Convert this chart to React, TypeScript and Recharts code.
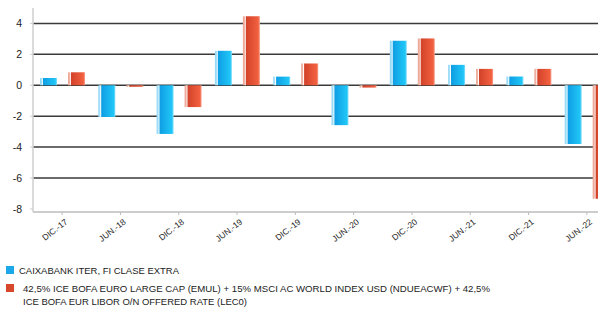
import React from "react";
import { Bar, BarChart, CartesianGrid, XAxis, YAxis } from "recharts";

const periods = [
  "DIC.-17",
  "JUN.-18",
  "DIC.-18",
  "JUN.-19",
  "DIC.-19",
  "JUN.-20",
  "DIC.-20",
  "JUN.-21",
  "DIC.-21",
  "JUN.-22",
];

const fundValues = [0.47, -2.05, -3.15, 2.23, 0.56, -2.58, 2.88, 1.32, 0.56, -3.8];
const benchValues = [0.84, -0.1, -1.41, 4.46, 1.41, -0.15, 3.03, 1.06, 1.06, -7.34];

const yTicks = [-8, -6, -4, -2, 0, 2, 4];
const gridValues = [-6, -4, -2, 0, 2, 4];

const fundName = "CAIXABANK ITER, FI CLASE EXTRA";
const benchLines = [
  "42,5% ICE BOFA EURO LARGE CAP (EMUL) + 15% MSCI AC WORLD INDEX USD (NDUEACWF) + 42,5%",
  "ICE BOFA EUR LIBOR O/N OFFERED RATE (LEC0)",
];

const data = periods.map((p, i) => ({
  name: p,
  fund: fundValues[i],
  bench: benchValues[i],
}));

const FONT = "'Liberation Sans', Arial, sans-serif";

const XTick = (props: any) => {
  const { x, y, payload } = props;
  return (
    <g transform={`translate(${x + 6},${y + 6})`}>
      <text
        transform="rotate(-38)"
        textAnchor="end"
        fontSize={8.5}
        fontFamily={FONT}
        fill="#222"
      >
        {payload.value}
      </text>
    </g>
  );
};

const LegendBox = () => (
  <svg width={598} height={57} style={{ position: "absolute", left: 0, top: 252 }}>
    <rect x={6} y={14} width={8} height={8} fill="#1aa8ea" />
    <text x={19} y={21.5} fontSize={9} fontFamily={FONT} fill="#222" textLength={160} lengthAdjust="spacingAndGlyphs">
      {fundName}
    </text>
    <rect x={6} y={32} width={8} height={8} fill="#d7472b" />
    <text x={23} y={40} fontSize={9} fontFamily={FONT} fill="#222" textLength={467} lengthAdjust="spacingAndGlyphs">
      {benchLines[0]}
    </text>
    <text x={23} y={53} fontSize={9} fontFamily={FONT} fill="#222" textLength={224} lengthAdjust="spacingAndGlyphs">
      {benchLines[1]}
    </text>
  </svg>
);

export default function App() {
  return (
    <div
      style={{
        position: "absolute",
        left: 0,
        top: 0,
        width: 598,
        height: 309,
        overflow: "hidden",
        background: "#fff",
      }}
    >
      <BarChart
        width={616}
        height={309}
        data={data}
        margin={{ top: 8, right: 0, bottom: 57, left: 0 }}
        barSize={17}
        barGap={11}
      >
        <defs>
          <linearGradient id="gBlue" x1="0" y1="0" x2="1" y2="0">
            <stop offset="0" stopColor="#8fd6f5" />
            <stop offset="0.1" stopColor="#a9e2f9" />
            <stop offset="0.14" stopColor="#ffffff" />
            <stop offset="0.2" stopColor="#0f9fe4" />
            <stop offset="0.9" stopColor="#20c6f7" />
            <stop offset="1" stopColor="#8ee0fb" />
          </linearGradient>
          <linearGradient id="gRed" x1="0" y1="0" x2="1" y2="0">
            <stop offset="0" stopColor="#eaa090" />
            <stop offset="0.1" stopColor="#f2b8aa" />
            <stop offset="0.14" stopColor="#ffffff" />
            <stop offset="0.2" stopColor="#d3432a" />
            <stop offset="0.9" stopColor="#f2603f" />
            <stop offset="1" stopColor="#f6a595" />
          </linearGradient>
        </defs>
        <CartesianGrid
          vertical={false}
          horizontalValues={gridValues}
          stroke="#3a3a3a"
          strokeWidth={1.5}
        />
        <XAxis
          dataKey="name"
          height={40}
          interval={0}
          tick={<XTick />}
          tickSize={3}
          axisLine={{ stroke: "#bdbdbd", strokeWidth: 1.5 }}
          tickLine={{ stroke: "#bdbdbd" }}
        />
        <YAxis
          width={33}
          domain={[-8.2, 5]}
          ticks={yTicks}
          interval={0}
          tickSize={3}
          tickMargin={8}
          axisLine={{ stroke: "#cfcfcf", strokeWidth: 1.5 }}
          tickLine={{ stroke: "#cfcfcf" }}
          tick={{ fontSize: 10.5, fill: "#222", fontFamily: FONT }}
        />
        <Bar dataKey="fund" fill="url(#gBlue)" isAnimationActive={false} />
        <Bar dataKey="bench" fill="url(#gRed)" isAnimationActive={false} />
      </BarChart>
      <LegendBox />
    </div>
  );
}
